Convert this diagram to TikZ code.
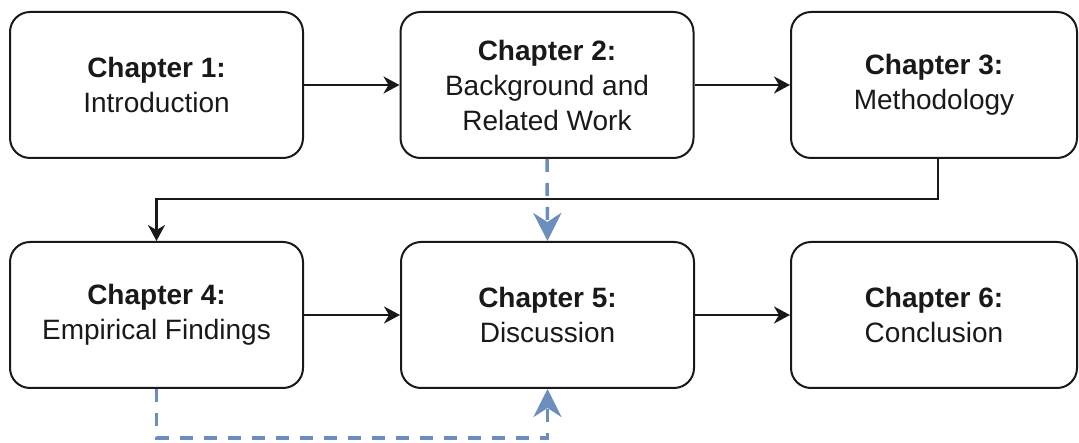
\documentclass[tikz,border=0pt]{standalone}
\usepackage{fontspec}
\setmainfont{Liberation Sans}
\usetikzlibrary{arrows.meta}
\definecolor{dblue}{HTML}{6C8EBF}
\begin{document}
\begin{tikzpicture}[x=1pt,y=-1pt,
 chap/.style={draw=black!90, line width=2pt, rounded corners=20pt, minimum width=293pt, minimum height=146pt, align=center, font=\fontsize{28}{35}\selectfont, inner sep=0pt, text=black!90},
 flow/.style={line width=2.2pt, black!90, -{Stealth[length=16pt,width=17pt,inset=5pt]}},
 refl/.style={dblue, line width=3.5pt, dash pattern=on 13pt off 11pt, -{Stealth[length=28pt,width=28pt,inset=9pt]}}]
\useasboundingbox (0,0) rectangle (1079,443);
\node[chap] (c1) at (156.5,85) {\textbf{Chapter 1:}\\Introduction};
\node[chap] (c2) at (547,85) {\textbf{Chapter 2:}\\Background and\\Related Work};
\node[chap, minimum width=286pt] (c3) at (934,85) {\textbf{Chapter 3:}\\Methodology};
\node[chap] (c4) at (156.5,315) {\textbf{Chapter 4:}\\Empirical Findings};
\node[chap] (c5) at (547.5,315) {\textbf{Chapter 5:}\\Discussion};
\node[chap, minimum width=286pt] (c6) at (934,315) {\textbf{Chapter 6:}\\Conclusion};
\draw[flow] (c1) -- (c2);
\draw[flow] (c2) -- (c3);
\draw[flow] ([xshift=4pt]c3.south) -- ++(0,40) -| (c4.north);
\draw[flow] (c4) -- (c5);
\draw[flow] (c5) -- (c6);
\draw[refl] (c2.south) -- (c5.north);
\draw[refl] (c4.south) -- ++(0,49) -| (c5.south);
\end{tikzpicture}
\end{document}
